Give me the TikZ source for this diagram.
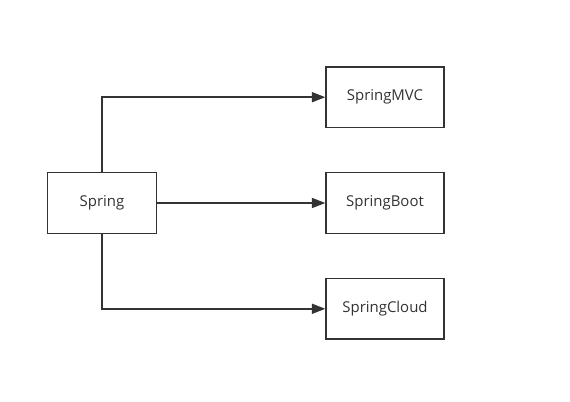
\documentclass[tikz,border=0pt]{standalone}
\usepackage{fontspec}
\setmainfont{Open Sans}
\usetikzlibrary{arrows.meta}
\definecolor{ln}{HTML}{333333}
\begin{document}
\begin{tikzpicture}[x=0.75pt,y=-0.75pt,
  box/.style={draw=ln,line width=1.05pt,fill=white,minimum width=109*0.75pt,minimum height=60.5*0.75pt,inner sep=0pt,font=\fontsize{11.2pt}{13pt}\selectfont,text=ln},
  bigbox/.style={box,minimum width=118*0.75pt},
  conn/.style={draw=ln,line width=1.05pt,-{Triangle[length=10pt,width=7.5pt]}}]
\useasboundingbox (0,0) rectangle (570,402);
\node[box] (spring) at (102,203) {Spring};
\node[bigbox] (mvc) at (385,97.2) {SpringMVC};
\node[bigbox] (boot) at (385,203) {SpringBoot};
\node[bigbox] (cloud) at (385,308.8) {SpringCloud};
\draw[conn] (spring.north) |- (mvc.west);
\draw[conn] (spring.east) -- (boot.west);
\draw[conn] (spring.south) |- (cloud.west);
\end{tikzpicture}
\end{document}
